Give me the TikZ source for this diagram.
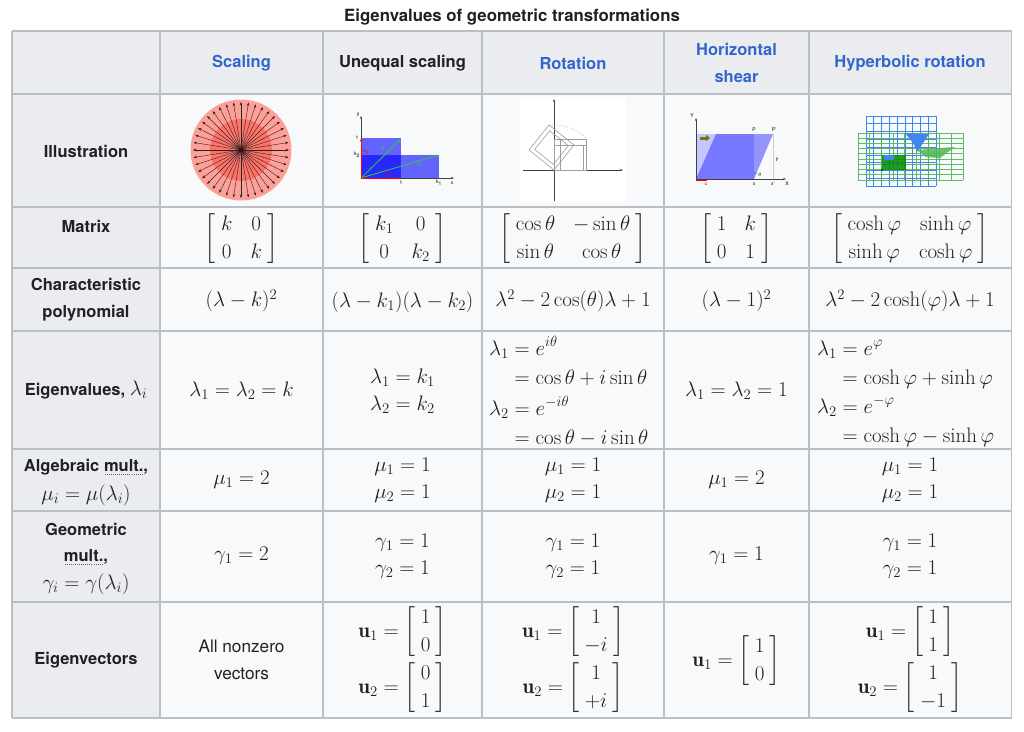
\RequirePackage{fix-cm}
\documentclass[tikz,border=0pt]{standalone}
\usepackage{amsmath}
\usepackage{fontspec}
\setsansfont{TeX Gyre Heros}
\usetikzlibrary{arrows.meta}
\definecolor{hdrbg}{HTML}{EAECF0}
\definecolor{cellbg}{HTML}{F8F9FA}
\definecolor{gridc}{HTML}{BABFC5}
\definecolor{linkc}{HTML}{3366CC}
\definecolor{txtc}{HTML}{202122}
\definecolor{sclout}{HTML}{FFA098}
\definecolor{sclin}{HTML}{FF7268}
\definecolor{grn}{HTML}{33CC33}
\definecolor{olivec}{HTML}{7A7A00}
\definecolor{hblue}{HTML}{3F86EE}
\definecolor{hgreen}{HTML}{55B555}
\newcommand{\mth}{\fontsize{21}{25}\selectfont}
\newcommand{\dotmult}[1]{\setbox0\hbox{#1}\rlap{\raisebox{-4pt}{\hbox to \wd0{\color{txtc!70}\xleaders\hbox to 2pt{\hss\rule{1pt}{1pt}\hss}\hfill}}}#1}
\newcommand{\bmat}[1]{\left[\mkern4.5mu\begin{matrix}#1\end{matrix}\mkern4.5mu\right]}
\setlength{\arraycolsep}{9pt}
\renewcommand{\arraystretch}{1.1}
\delimiterfactor=800
\delimitershortfall=10pt
\setlength{\jot}{4pt}
\begin{document}
\begin{tikzpicture}[x=1pt,y=-1pt,
  hd/.style={font=\sffamily\bfseries\fontsize{16.5}{27}\selectfont, text=txtc, align=center, inner sep=0pt},
  lk/.style={hd, text=linkc},
  tx/.style={font=\sffamily\fontsize{17.2}{27}\selectfont, text=txtc, align=center, inner sep=0pt},
  mt/.style={font=\mth, text=txtc, inner sep=0pt},
  gl/.style={draw=gridc, line width=1.3pt},
  lbl/.style={font=\sffamily\fontsize{5}{5}\selectfont, inner sep=0pt},
  sarrow/.style={-{Stealth[length=3.4pt,width=2.6pt]}, line width=0.4pt, draw=black!85},
  rax/.style={-{Stealth[length=3pt,width=2.2pt]}, line width=0.5pt, draw=black!75},
  rline/.style={draw=gray!75, line width=0.6pt},
  hb/.style={draw=hblue, line width=0.8pt},
  hg/.style={draw=hgreen, line width=0.8pt, opacity=0.9}
]
\useasboundingbox (0,0) rectangle (1024,731);
\fill[white] (0,0) rectangle (1024,731);
% title
\node[hd, font=\sffamily\bfseries\fontsize{16.8}{20}\selectfont] (title) at (512,17) {Eigenvalues of geometric transformations};
% backgrounds
\fill[cellbg] (160,94) rectangle (1011.5,718);
\fill[hdrbg] (12,31) rectangle (1011.5,94);
\fill[hdrbg] (12,94) rectangle (160,718);
\fill[white] (520,97) rectangle (626,202);
% grid
\foreach \yy in {31,94,207,268,331,449,511,602,718} \draw[gl] (12,\yy) -- (1011.5,\yy);
\foreach \xx in {12,160,323,482,664,809,1011.5} \draw[gl] (\xx,31) -- (\xx,718);

% header row
\node[lk] (hScal) at (241.5,63.5) {Scaling};
\node[hd] (hUneq) at (402.5,63.5) {Unequal scaling};
\node[lk] (hRot) at (573,63.5) {Rotation};
\node[lk] (hShear) at (736.5,63) {Horizontal\\shear};
\node[lk] (hHyp) at (910,63.5) {Hyperbolic rotation};

% row headers
\node[hd] (rIll) at (86,151) {Illustration};
\node[hd] (rMat) at (86,226) {Matrix};
\node[hd] (rChar) at (86,300) {Characteristic\\polynomial};
\node[hd] (rEig) at (86,390) {Eigenvalues, {\mth$\lambda_i$}};
\node[hd] (rAlgA) at (86,467) {Algebraic \dotmult{mult.},};
\node[mt] (rAlgB) at (86,495) {$\mu_i = \mu(\lambda_i)$};
\node[hd] (rGeoA) at (86,529) {Geometric};
\node[hd] (rGeoB) at (86,557) {\dotmult{mult.},};
\node[mt] (rGeoC) at (86,584) {$\gamma_i = \gamma(\lambda_i)$};
\node[hd] (rVec) at (86,660) {Eigenvectors};

% ---------- illustrations ----------
% scaling
\fill[sclout] (241,150) circle (50.5);
\fill[sclin] (241,150) circle (31);
\foreach \a in {0,9,...,351} \draw[sarrow] (241,150) -- ++(\a:48);
\fill[red!35!black] (241,150) circle (2.5);

% unequal scaling
\fill[blue, opacity=0.6] (361,138) rectangle (401,178);
\fill[blue, opacity=0.6] (361,155) rectangle (439,178);
\draw[rax] (361,178) -- (361,116);
\draw[rax] (361,178) -- (454,178);
\draw[-{Stealth[length=3pt,width=2.4pt]}, draw=grn, line width=0.8pt] (361,178) -- (401,139);
\draw[-{Stealth[length=3pt,width=2.4pt]}, draw=grn, line width=0.8pt] (361,178) -- (439,155);
\draw[-{Stealth[length=3pt,width=2.4pt]}, draw=red, line width=0.8pt] (361,178) -- (401,178);
\draw[-{Stealth[length=3pt,width=2.4pt]}, draw=red, line width=0.8pt] (361,178) -- (361,139);
\node[lbl] (uy) at (358,115) {y};
\node[lbl] (ux) at (452,183) {x};
\node[lbl] (uone) at (357,138) {1};
\node[lbl] (uk2) at (357,155) {k\textsubscript{2}};
\node[lbl] (uoneb) at (401,183) {1};
\node[lbl] (uk1) at (439,183) {k\textsubscript{1}};
\node[lbl, text=grn] (uA) at (383,149) {A};
\node[lbl, text=grn] (uAp) at (420,165) {A'};
\node[lbl, text=red] (uu2) at (366,152) {u\textsubscript{2}};
\node[lbl, text=red] (uu1) at (388,175) {u\textsubscript{1}};

% rotation
\draw[rax] (554,201) -- (554,99);
\draw[rax] (523,170) -- (623,170);
\draw[rline] (554,139) rectangle (586,170);
\draw[rline] (554,145) -- (586,145);
\draw[rline] (560,139) -- (560,170);
\draw[rline] (583.5,145) -- (583.5,170);
\draw[rline] (554,170) -- (574,145) -- (549,125) -- (529,150) -- cycle;
\draw[rline] (553.4,164.4) -- (568.4,145.7) -- (549.7,130.7) -- (534.7,149.4) -- cycle;
\draw[dotted, draw=gray, line width=0.6pt] plot[domain=-96:-44, samples=25] ({554+45*cos(\x)},{170+45*sin(\x)});

% horizontal shear
\fill[blue!22] (696,134) rectangle (754,179);
\fill[blue, opacity=0.4] (696,179) -- (754,179) -- (773,134) -- (716,134) -- cycle;
\draw[draw=gray!40, line width=0.5pt] (773,134) -- (773,179);
\draw[rax] (696,179) -- (696,118);
\draw[rax] (696,179) -- (786,179);
\draw[-{Triangle[length=4pt,width=6.5pt]}, draw=olivec, fill=olivec, line width=3pt] (700,138) -- (710,138);
\draw[draw=red, line width=0.9pt] (696,180) -- (707,180);
\draw[draw=green!60!black, line width=0.6pt] plot[domain=-90:-67, samples=8] ({754+6*cos(\x)},{179+6*sin(\x)});
\node[lbl] (sP) at (754,130) {P};
\node[lbl] (sPp) at (774,130) {P'};
\node[lbl] (sy) at (777,160) {y};
\node[lbl] (sx) at (754,184) {x};
\node[lbl] (sxp) at (773,184) {x'};
\node[lbl] (sX) at (787,184) {X};
\node[lbl] (sY) at (692,116) {Y};
\node[lbl, text=red] (su) at (706,184) {u};
\node[lbl] (sth) at (760,175) {$\theta$};

% hyperbolic rotation
\foreach \i in {0,...,9} {
  \draw[hb] ({866+\i*7.78},116) -- ({866+\i*7.78},186);
  \draw[hb] (866,{116+\i*7.78}) -- (936,{116+\i*7.78});
}
\foreach \i in {0,...,9} {
  \draw[hg] ({858+\i*11.67},133) -- ({858+\i*11.67},180);
  \draw[hg] (858,{133+\i*5.22}) -- (963,{133+\i*5.22});
}
\fill[hblue] (905,133) -- (929,134) -- (921,146) -- (918,152) -- (913,143) -- cycle;
\fill[hgreen, opacity=0.85] (917,150) -- (955,147) -- (940,158) -- (926,157) -- cycle;
\fill[green!55!black, opacity=0.85] (882,155) rectangle (906,170);
\fill[hblue] (884,155) rectangle (894,159.5);
\fill[black] (882,170) circle (0.8);

% ---------- matrix row ----------
\node[mt] (m1) at (241.5,239) {$\bmat{ k & 0\\ 0 & k}$};
\node[mt] (m2) at (402.5,239) {$\bmat{ k_1 & 0\\ 0 & k_2}$};
\node[mt] (m3) at (573,239) {$\bmat{ \cos\theta & -\sin\theta\\ \sin\theta & \cos\theta}$};
\node[mt] (m4) at (736.5,239) {$\bmat{ 1 & k\\ 0 & 1}$};
\node[mt] (m5) at (910,239) {$\bmat{ \cosh\varphi & \sinh\varphi\\ \sinh\varphi & \cosh\varphi}$};

% ---------- characteristic polynomial ----------
\node[mt] (p1) at (241.5,301) {$(\lambda-k)^2$};
\node[mt] (p2) at (402.5,302) {$(\lambda-k_1)(\lambda-k_2)$};
\node[mt] (p3) at (573,301) {$\lambda^2-2\cos(\theta)\lambda+1$};
\node[mt] (p4) at (736.5,301) {$(\lambda-1)^2$};
\node[mt] (p5) at (910,301) {$\lambda^2-2\cosh(\varphi)\lambda+1$};

% ---------- eigenvalues ----------
\node[mt] (e1) at (241.5,391) {$\lambda_1=\lambda_2=k$};
\node[mt] (e2a) at (402.5,378) {$\lambda_1=k_1$};
\node[mt] (e2b) at (402.5,405) {$\lambda_2=k_2$};
\node[mt, anchor=west] (e3) at (489,394) {$\begin{aligned}\lambda_1&=e^{i\theta}\\&=\cos\theta+i\sin\theta\\ \lambda_2&=e^{-i\theta}\\&=\cos\theta-i\sin\theta\end{aligned}$};
\node[mt] (e4) at (736.5,391) {$\lambda_1=\lambda_2=1$};
\node[mt, anchor=west] (e5) at (817,394) {$\begin{aligned}\lambda_1&=e^{\varphi}\\&=\cosh\varphi+\sinh\varphi\\ \lambda_2&=e^{-\varphi}\\&=\cosh\varphi-\sinh\varphi\end{aligned}$};

% ---------- algebraic multiplicity ----------
\node[mt] (a1) at (241.5,480) {$\mu_1=2$};
\node[mt] (a2a) at (402.5,467) {$\mu_1=1$};
\node[mt] (a2b) at (402.5,494) {$\mu_2=1$};
\node[mt] (a3a) at (573,467) {$\mu_1=1$};
\node[mt] (a3b) at (573,494) {$\mu_2=1$};
\node[mt] (a4) at (736.5,480) {$\mu_1=2$};
\node[mt] (a5a) at (910,467) {$\mu_1=1$};
\node[mt] (a5b) at (910,494) {$\mu_2=1$};

% ---------- geometric multiplicity ----------
\node[mt] (g1) at (241.5,556) {$\gamma_1=2$};
\node[mt] (g2a) at (402.5,543) {$\gamma_1=1$};
\node[mt] (g2b) at (402.5,570) {$\gamma_2=1$};
\node[mt] (g3a) at (573,543) {$\gamma_1=1$};
\node[mt] (g3b) at (573,570) {$\gamma_2=1$};
\node[mt] (g4) at (736.5,556) {$\gamma_1=1$};
\node[mt] (g5a) at (910,543) {$\gamma_1=1$};
\node[mt] (g5b) at (910,570) {$\gamma_2=1$};

% ---------- eigenvectors ----------
\node[tx] (v1) at (241.5,660) {All nonzero\\vectors};
\node[mt] (v2a) at (402.5,632) {$\mathbf{u}_1=\bmat{1\\0}$};
\node[mt] (v2b) at (402.5,688) {$\mathbf{u}_2=\bmat{0\\1}$};
\node[mt] (v3a) at (573,632) {$\mathbf{u}_1=\bmat{1\\-i}$};
\node[mt] (v3b) at (573,688) {$\mathbf{u}_2=\bmat{1\\+i}$};
\node[mt] (v4) at (736.5,661) {$\mathbf{u}_1=\bmat{1\\0}$};
\node[mt] (v5a) at (910,632) {$\mathbf{u}_1=\bmat{1\\1}$};
\node[mt] (v5b) at (910,688) {$\mathbf{u}_2=\bmat{1\\-1}$};
\end{tikzpicture}
\end{document}
